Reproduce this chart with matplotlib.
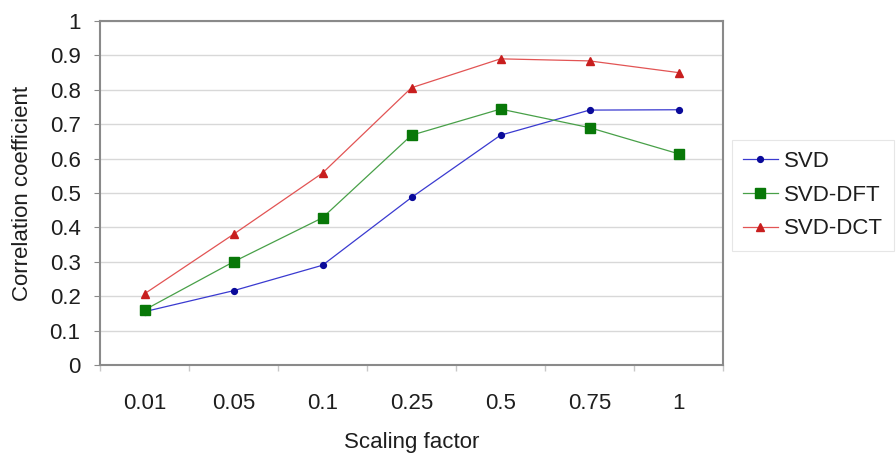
import matplotlib
matplotlib.use("Agg")
import matplotlib.pyplot as plt

# Data
scaling_labels = ["0.01", "0.05", "0.1", "0.25", "0.5", "0.75", "1"]
svd = [0.155, 0.216, 0.290, 0.487, 0.668, 0.741, 0.742]
svd_dft = [0.160, 0.300, 0.428, 0.668, 0.744, 0.690, 0.614]
svd_dct = [0.207, 0.380, 0.558, 0.806, 0.890, 0.884, 0.850]
y_ticks = [0, 0.1, 0.2, 0.3, 0.4, 0.5, 0.6, 0.7, 0.8, 0.9, 1]

plt.rcParams["font.family"] = ["Liberation Sans", "DejaVu Sans"]
text_color = "#1e1e1e"
frame_color = "#8a8a8a"

fig = plt.figure(figsize=(8.96, 4.57), dpi=100)
ax = fig.add_axes([100 / 896, (457 - 365) / 457, 623 / 896, 344 / 457])

x = [i + 0.5 for i in range(len(scaling_labels))]

ax.plot(x, svd, color="#3a3ad0", lw=0.9, marker="o", ms=4.2,
        mfc="#0a0a9a", mec="#0a0a9a", label="SVD", zorder=3)
ax.plot(x, svd_dft, color="#48a048", lw=0.9, marker="s", ms=7.5,
        mfc="#087808", mec="#087808", label="SVD-DFT", zorder=3)
ax.plot(x, svd_dct, color="#e25454", lw=0.9, marker="^", ms=5.5,
        mfc="#c81e1e", mec="#c81e1e", label="SVD-DCT", zorder=3)

ax.set_xlim(0, len(scaling_labels))
ax.set_ylim(0, 1)
ax.set_yticks(y_ticks)
ax.set_yticklabels([f"{v:g}" for v in y_ticks])
ax.yaxis.grid(True, color="#d8d8d8", lw=1.0)
ax.set_axisbelow(True)

ax.set_xticks(x)
ax.set_xticklabels(scaling_labels)
ax.set_xticks(range(len(scaling_labels) + 1), minor=True)
ax.tick_params(axis="x", which="major", length=0, pad=20,
               labelsize=16, labelcolor=text_color)
ax.tick_params(axis="x", which="minor", length=4, color="#c8c8c8", width=1)
ax.tick_params(axis="y", which="major", length=4, color=frame_color,
               pad=10, labelsize=16, labelcolor=text_color)

for side in ax.spines.values():
    side.set_color(frame_color)
    side.set_linewidth(1.5)

ax.set_xlabel("Scaling factor", fontsize=16, color=text_color, labelpad=13)
ax.set_ylabel("Correlation coefficient", fontsize=16, color=text_color, labelpad=12)

leg = ax.legend(loc="upper left", bbox_to_anchor=(732 / 896, (457 - 140) / 457),
                bbox_transform=fig.transFigure, borderaxespad=0,
                fontsize=16, frameon=True, fancybox=False,
                handlelength=1.55, handletextpad=0.3, labelspacing=0.57,
                borderpad=0.5)
leg.get_frame().set_edgecolor("#e0e0e0")
leg.get_frame().set_linewidth(0.8)
for t in leg.get_texts():
    t.set_color(text_color)

fig.savefig("out.png", dpi=100)
